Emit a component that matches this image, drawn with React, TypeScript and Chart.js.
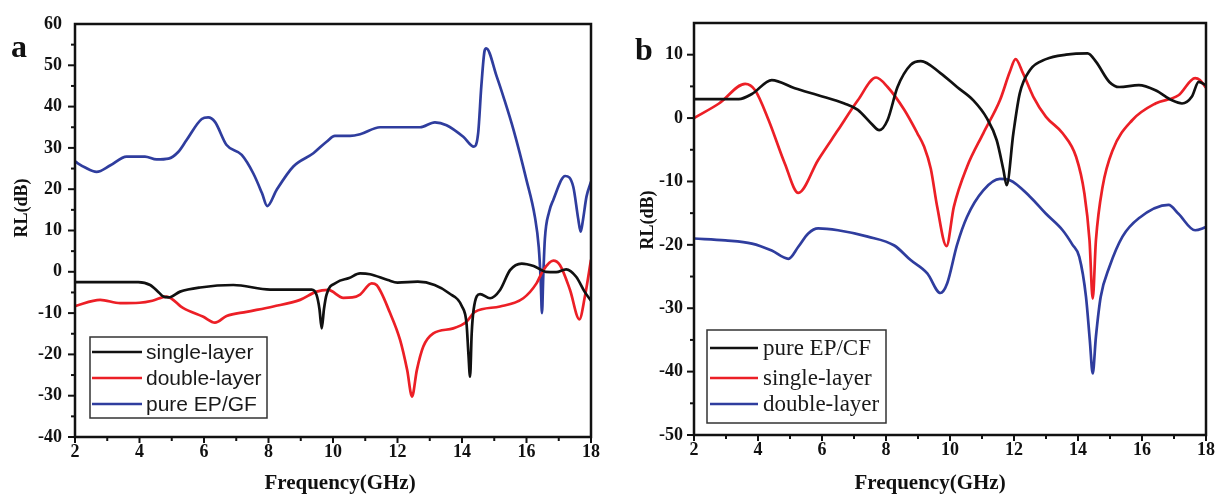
import React, { useEffect, useRef } from 'react';
import { Chart, registerables } from 'chart.js';

Chart.register(...registerables);

// ---------------- Panel a data ----------------
const aSingleX = [2.0, 3.96, 4.33, 4.6, 4.74, 4.9, 5.26, 5.88, 6.91, 8.05, 9.34, 9.49, 9.58, 9.65, 9.72, 9.8, 10.11, 10.5, 10.84, 11.15, 11.7, 12.0, 12.63, 13.15, 13.6, 14.0, 14.14, 14.2, 14.25, 14.3, 14.36, 14.56, 14.87, 15.18, 15.49, 15.85, 16.22, 16.6, 16.92, 17.23, 17.54, 17.8, 18.0];
const aSingleY = [-2.5, -2.5, -3.2, -5.0, -6.0, -6.2, -4.8, -3.8, -3.2, -4.3, -4.3, -5.6, -9, -13.7, -9, -5.5, -2.6, -1.5, -0.4, -0.6, -2.0, -2.6, -2.4, -3.2, -5.2, -8.4, -12.5, -20, -25.4, -15, -9.2, -5.4, -6.4, -4.4, 0.4, 2.0, 1.4, 0.0, -0.1, 0.6, -1.2, -4.8, -7.0];

const aDoubleX = [2.0, 2.78, 3.4, 4.0, 4.4, 4.84, 5.36, 5.98, 6.34, 6.7, 7.32, 8.15, 8.98, 9.49, 9.85, 10.32, 10.6, 10.84, 11.2, 11.35, 11.77, 12.08, 12.3, 12.45, 12.6, 12.8, 13.11, 13.73, 14.14, 14.4, 15.18, 15.9, 16.31, 16.52, 16.83, 17.04, 17.35, 17.64, 17.81, 18.0];
const aDoubleY = [-8.3, -6.8, -7.6, -7.5, -7.0, -6.0, -8.8, -10.9, -12.3, -10.7, -9.7, -8.4, -6.8, -4.8, -4.4, -6.3, -6.2, -5.5, -2.8, -3.2, -10.0, -16.5, -23.8, -30.2, -23.8, -18.1, -14.9, -13.7, -12.1, -9.7, -8.4, -6.4, -2.8, 0.4, 2.7, 1.6, -4.4, -11.5, -6.0, 2.9];

const aPureX = [2.0, 2.3, 2.67, 3.1, 3.6, 4.17, 4.53, 4.9, 5.2, 5.46, 5.93, 6.13, 6.34, 6.7, 7.17, 7.53, 7.8, 7.96, 8.25, 8.77, 9.39, 9.8, 10.06, 10.53, 10.84, 11.46, 12.7, 13.16, 13.52, 14.04, 14.37, 14.5, 14.6, 14.7, 14.75, 15.08, 15.3, 15.6, 16.0, 16.26, 16.38, 16.44, 16.48, 16.52, 16.57, 16.7, 16.83, 17.2, 17.45, 17.6, 17.68, 17.75, 17.86, 18.0];
const aPureY = [26.7, 25.3, 24.2, 25.8, 27.9, 27.9, 27.2, 27.4, 29.0, 31.9, 37.0, 37.4, 36.3, 30.7, 28.3, 23.8, 19.0, 15.9, 19.8, 25.5, 28.7, 31.5, 32.9, 32.9, 33.3, 35.0, 35.0, 36.2, 35.5, 32.7, 30.3, 33.5, 45.0, 53.5, 54.1, 47.2, 42.0, 34.3, 22.2, 13.3, 6.0, -2.0, -10.0, -1.0, 8.0, 14.5, 17.4, 23.2, 20.6, 13.0, 9.7, 12.5, 18.2, 21.8];

// ---------------- Panel b data ----------------
const bPureX = [2.0, 3.4, 3.81, 4.43, 5.15, 5.88, 6.7, 7.12, 7.53, 7.79, 8.05, 8.36, 8.77, 9.09, 9.7, 10.22, 10.73, 11.15, 11.46, 11.67, 11.77, 11.98, 12.18, 12.5, 13.0, 13.63, 14.3, 14.56, 14.98, 15.29, 15.9, 16.42, 16.94, 17.25, 17.56, 17.77, 18.0];
const bPureY = [3.0, 3.0, 3.8, 6.0, 4.7, 3.6, 2.3, 1.3, -0.8, -1.9, -0.3, 4.9, 8.4, 9.0, 7.1, 4.9, 2.8, 0.0, -3.5, -8.2, -10.6, -2.4, 3.9, 7.6, 9.3, 10.0, 10.2, 8.9, 5.7, 4.9, 5.2, 4.4, 2.8, 2.3, 3.4, 5.7, 5.2];

const bSingleX = [2.0, 2.78, 3.6, 3.91, 4.33, 4.84, 5.26, 5.88, 6.5, 7.12, 7.69, 8.05, 8.57, 8.98, 9.19, 9.4, 9.6, 9.89, 10.12, 10.53, 11.04, 11.56, 11.87, 12.05, 12.28, 12.6, 13.0, 13.52, 13.94, 14.2, 14.36, 14.46, 14.56, 14.77, 15.08, 15.7, 16.42, 17.14, 17.66, 17.81, 18.0];
const bSingleY = [0.0, 2.3, 5.4, 4.4, -0.3, -7.2, -11.8, -6.6, -1.9, 2.8, 6.4, 4.9, 1.3, -2.4, -4.5, -8.0, -14.0, -20.2, -14.0, -7.7, -2.4, 2.8, 7.3, 9.3, 7.1, 3.4, 0.2, -2.4, -6.1, -11.9, -19.3, -28.5, -19.3, -10.8, -5.1, -0.3, 2.3, 3.6, 6.3, 6.0, 4.8];

const bDoubleX = [2.0, 2.98, 3.81, 4.43, 4.95, 5.26, 5.57, 5.88, 6.5, 7.43, 8.26, 8.77, 9.29, 9.7, 9.91, 10.22, 10.53, 11.04, 11.56, 11.87, 12.5, 13.0, 13.52, 13.83, 14.04, 14.25, 14.37, 14.46, 14.56, 14.71, 14.98, 15.39, 15.9, 16.83, 17.14, 17.66, 18.0];
const bDoubleY = [-19.0, -19.3, -19.8, -20.9, -22.2, -20.3, -18.2, -17.4, -17.7, -18.7, -20.1, -22.4, -24.5, -27.6, -26.1, -20.0, -15.6, -11.4, -9.6, -9.8, -12.4, -15.1, -17.7, -20.0, -21.9, -28.2, -35.1, -40.3, -34.5, -28.2, -23.5, -18.7, -15.8, -13.7, -15.1, -17.7, -17.2];

// ---------------- Labels ----------------
const aLabels = ['single-layer', 'double-layer', 'pure EP/GF'];
const bLabels = ['pure EP/CF', 'single-layer', 'double-layer'];
const yTitle = 'RL(dB)';
const xTitle = 'Frequency(GHz)';

const BLACK = '#111111';
const RED = '#ec1f26';
const BLUE = '#2f3d9e';

const SERIF = '"Liberation Serif", "Times New Roman", serif';
const SANS = '"Liberation Sans", Arial, sans-serif';

const zip = (xs: number[], ys: number[]) => xs.map((x, i) => ({ x, y: ys[i] }));

const panelPlugin = {
  id: 'panelDeco',
  afterDraw(chart: any, _args: any, opts: any) {
    const { ctx, chartArea: ca, scales } = chart;
    const xs = scales.x;
    const ys = scales.y;
    ctx.save();
    ctx.strokeStyle = BLACK;
    ctx.lineWidth = 2;
    ctx.lineCap = 'butt';
    // y ticks (outward)
    ys.ticks.forEach((t: any) => {
      const p = ys.getPixelForValue(t.value);
      if (p < ca.top + 1) return;
      const len = t.value % 10 === 0 ? 7 : 4;
      ctx.beginPath();
      ctx.moveTo(ca.left - len, p);
      ctx.lineTo(ca.left, p);
      ctx.stroke();
    });
    // x ticks (outward)
    xs.ticks.forEach((t: any) => {
      const p = xs.getPixelForValue(t.value);
      const len = t.value % 2 === 0 ? 6 : 4;
      ctx.beginPath();
      ctx.moveTo(p, ca.bottom);
      ctx.lineTo(p, ca.bottom + len);
      ctx.stroke();
    });
    // frame
    ctx.lineWidth = 2.5;
    ctx.strokeRect(ca.left, ca.top, ca.right - ca.left, ca.bottom - ca.top);

    // axis titles
    ctx.fillStyle = BLACK;
    ctx.textAlign = 'center';
    ctx.textBaseline = 'middle';
    ctx.font = `bold 18px ${SERIF}`;
    ctx.save();
    ctx.translate(opts.yTitlePos[0], opts.yTitlePos[1]);
    ctx.rotate(-Math.PI / 2);
    ctx.fillText(yTitle, 0, 0);
    ctx.restore();
    ctx.font = `bold 21px ${SERIF}`;
    ctx.fillText(xTitle, opts.xTitlePos[0], opts.xTitlePos[1]);

    // panel letter
    ctx.textAlign = 'left';
    ctx.textBaseline = 'alphabetic';
    ctx.font = `bold 32px ${SERIF}`;
    ctx.fillText(opts.letter, opts.letterPos[0], opts.letterPos[1]);

    // legend
    const lg = opts.legend;
    const [bx0, by0, bx1, by1] = lg.box;
    ctx.fillStyle = '#ffffff';
    ctx.fillRect(bx0, by0, bx1 - bx0, by1 - by0);
    ctx.strokeStyle = '#333333';
    ctx.lineWidth = 1.5;
    ctx.strokeRect(bx0, by0, bx1 - bx0, by1 - by0);
    ctx.font = lg.font;
    ctx.textBaseline = 'middle';
    chart.data.datasets.forEach((ds: any, i: number) => {
      const yy = lg.rows[i];
      ctx.strokeStyle = ds.borderColor;
      ctx.lineWidth = 2.7;
      ctx.beginPath();
      ctx.moveTo(lg.lineX[0], yy);
      ctx.lineTo(lg.lineX[1], yy);
      ctx.stroke();
      ctx.fillStyle = '#1a1a1a';
      ctx.fillText(ds.label, lg.textX, yy + 1);
    });
    ctx.restore();
  },
};

type PanelCfg = {
  datasets: { label: string; color: string; xs: number[]; ys: number[] }[];
  yMin: number;
  yMax: number;
  yAxisW: number;
  xAxisH: number;
  padTop: number;
  padRight: number;
  yTickPad: number;
  deco: any;
};

function makeChart(canvas: HTMLCanvasElement, cfg: PanelCfg) {
  const tickFont = { family: SERIF, size: 18, weight: 'bold' as const };
  return new Chart(canvas, {
    type: 'line',
    data: {
      datasets: cfg.datasets.map((d) => ({
        label: d.label,
        data: zip(d.xs, d.ys),
        borderColor: d.color,
        backgroundColor: d.color,
        borderWidth: 2.7,
        pointRadius: 0,
        cubicInterpolationMode: 'monotone' as const,
        fill: false,
      })),
    },
    options: {
      responsive: false,
      animation: false,
      devicePixelRatio: 1,
      layout: { padding: { left: 0, right: cfg.padRight, top: cfg.padTop, bottom: 0 } },
      plugins: {
        legend: { display: false },
        tooltip: { enabled: false },
        // @ts-ignore
        panelDeco: cfg.deco,
      },
      scales: {
        x: {
          type: 'linear',
          min: 2,
          max: 18,
          ticks: {
            stepSize: 1,
            autoSkip: false,
            maxRotation: 0,
            padding: 5,
            color: BLACK,
            font: tickFont,
            callback: (v: any) => (Number(v) % 2 === 0 ? String(v) : ''),
          },
          grid: { display: false, drawTicks: false },
          border: { display: false },
          afterFit: (s: any) => {
            s.height = cfg.xAxisH;
          },
        },
        y: {
          type: 'linear',
          min: cfg.yMin,
          max: cfg.yMax,
          ticks: {
            stepSize: 5,
            autoSkip: false,
            padding: cfg.yTickPad,
            color: BLACK,
            font: tickFont,
            callback: (v: any) => (Number(v) % 10 === 0 ? String(v) : ''),
          },
          grid: { display: false, drawTicks: false },
          border: { display: false },
          afterFit: (s: any) => {
            s.width = cfg.yAxisW;
          },
        },
      },
    },
    plugins: [panelPlugin as any],
  });
}

const panelA: PanelCfg = {
  datasets: [
    { label: aLabels[0], color: BLACK, xs: aSingleX, ys: aSingleY },
    { label: aLabels[1], color: RED, xs: aDoubleX, ys: aDoubleY },
    { label: aLabels[2], color: BLUE, xs: aPureX, ys: aPureY },
  ],
  yMin: -40,
  yMax: 60,
  yAxisW: 75,
  xAxisH: 57,
  padTop: 24,
  padRight: 19,
  yTickPad: 13,
  deco: {
    letter: 'a',
    letterPos: [11, 57],
    yTitlePos: [22, 208],
    xTitlePos: [340, 484],
    legend: {
      box: [90, 337, 267, 418],
      lineX: [92, 142],
      textX: 146,
      rows: [352, 378, 404],
      font: `21px ${SANS}`,
    },
  },
};

const panelB: PanelCfg = {
  datasets: [
    { label: bLabels[0], color: BLACK, xs: bPureX, ys: bPureY },
    { label: bLabels[1], color: RED, xs: bSingleX, ys: bSingleY },
    { label: bLabels[2], color: BLUE, xs: bDoubleX, ys: bDoubleY },
  ],
  yMin: -50,
  yMax: 15,
  yAxisW: 84,
  xAxisH: 59,
  padTop: 23,
  padRight: 9,
  yTickPad: 11,
  deco: {
    letter: 'b',
    letterPos: [25, 60],
    yTitlePos: [38, 220],
    xTitlePos: [320, 484],
    legend: {
      box: [97, 330, 276, 423],
      lineX: [100, 148],
      textX: 153,
      rows: [348, 378, 404],
      font: `23px ${SERIF}`,
    },
  },
};

export default function App() {
  const refA = useRef<HTMLCanvasElement>(null);
  const refB = useRef<HTMLCanvasElement>(null);

  useEffect(() => {
    const ca = makeChart(refA.current!, panelA);
    const cb = makeChart(refB.current!, panelB);
    return () => {
      ca.destroy();
      cb.destroy();
    };
  }, []);

  return (
    <div style={{ position: 'absolute', left: 0, top: 0, width: 1220, height: 494, background: '#fff', overflow: 'hidden' }}>
      <canvas ref={refA} width={610} height={494} style={{ position: 'absolute', left: 0, top: 0, width: 610, height: 494 }} />
      <canvas ref={refB} width={610} height={494} style={{ position: 'absolute', left: 610, top: 0, width: 610, height: 494 }} />
    </div>
  );
}
